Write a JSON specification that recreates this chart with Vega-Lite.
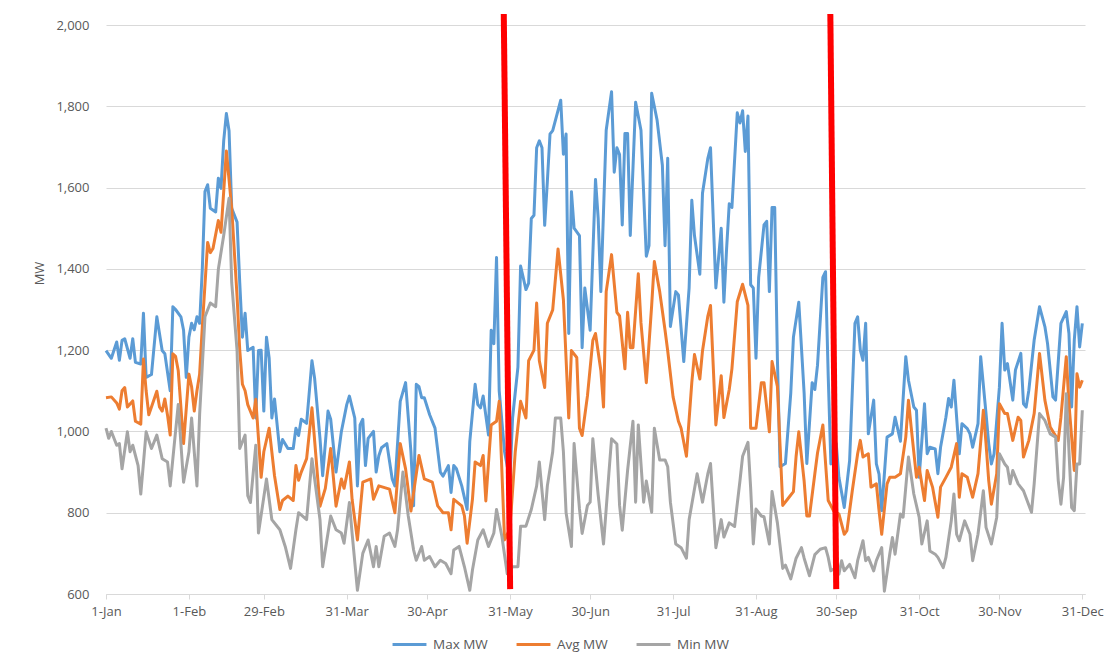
{
"$schema": "https://vega.github.io/schema/vega-lite/v6.json",
"width": 979, "height": 569,
"autosize": {"type": "none"},
"padding": {"left": 106, "top": 25, "right": 20, "bottom": 75},
"background": "white",
"config": {
 "view": {"stroke": null},
 "font": "Open Sans",
 "axis": {"labelFont": "Open Sans", "labelFontSize": 13, "labelColor": "#595959", "titleFont": "Open Sans", "titleFontSize": 13, "titleFontWeight": "normal", "titleColor": "#595959", "gridColor": "#D9D9D9", "domainColor": "#D9D9D9", "tickColor": "#D9D9D9"},
 "legend": {"orient": "none", "legendX": 285, "legendY": 601, "direction": "horizontal", "symbolType": "stroke", "symbolSize": 1150, "symbolStrokeWidth": 3, "labelFont": "Open Sans", "labelFontSize": 13.5, "labelColor": "#595959", "labelOffset": 5, "columnPadding": 22}
},
"datasets": {
 "max": [
{"date":"2016-01-01","mw":1199},{"date":"2016-01-03","mw":1180},{"date":"2016-01-05","mw":1220},{"date":"2016-01-06","mw":1175},{"date":"2016-01-07","mw":1224},{"date":"2016-01-08","mw":1228},{"date":"2016-01-10","mw":1180},{"date":"2016-01-11","mw":1228},{"date":"2016-01-12","mw":1170},{"date":"2016-01-14","mw":1166},{"date":"2016-01-15","mw":1291},{"date":"2016-01-16","mw":1133},{"date":"2016-01-18","mw":1140},{"date":"2016-01-20","mw":1282},{"date":"2016-01-22","mw":1199},{"date":"2016-01-23","mw":1191},{"date":"2016-01-25","mw":1100},{"date":"2016-01-26","mw":1307},{"date":"2016-01-27","mw":1300},{"date":"2016-01-29","mw":1282},{"date":"2016-01-30","mw":1249},{"date":"2016-01-31","mw":1133},
{"date":"2016-02-01","mw":1232},{"date":"2016-02-02","mw":1266},{"date":"2016-02-03","mw":1250},{"date":"2016-02-04","mw":1282},{"date":"2016-02-05","mw":1266},{"date":"2016-02-06","mw":1399},{"date":"2016-02-07","mw":1590},{"date":"2016-02-08","mw":1607},{"date":"2016-02-09","mw":1549},{"date":"2016-02-11","mw":1540},{"date":"2016-02-12","mw":1623},{"date":"2016-02-13","mw":1598},{"date":"2016-02-14","mw":1715},{"date":"2016-02-15","mw":1782},{"date":"2016-02-16","mw":1740},{"date":"2016-02-17","mw":1549},{"date":"2016-02-19","mw":1515},{"date":"2016-02-20","mw":1366},{"date":"2016-02-21","mw":1232},{"date":"2016-02-22","mw":1291},{"date":"2016-02-23","mw":1199},{"date":"2016-02-25","mw":1207},{"date":"2016-02-26","mw":1033},{"date":"2016-02-27","mw":1199},{"date":"2016-02-28","mw":1200},{"date":"2016-02-29","mw":1050},
{"date":"2016-03-01","mw":1232},{"date":"2016-03-02","mw":1180},{"date":"2016-03-03","mw":1033},{"date":"2016-03-04","mw":1080},{"date":"2016-03-06","mw":950},{"date":"2016-03-07","mw":980},{"date":"2016-03-09","mw":958},{"date":"2016-03-11","mw":958},{"date":"2016-03-12","mw":1008},{"date":"2016-03-13","mw":990},{"date":"2016-03-14","mw":1030},{"date":"2016-03-16","mw":1020},{"date":"2016-03-18","mw":1174},{"date":"2016-03-19","mw":1130},{"date":"2016-03-21","mw":983},{"date":"2016-03-22","mw":891},{"date":"2016-03-24","mw":1050},{"date":"2016-03-25","mw":1030},{"date":"2016-03-27","mw":900},{"date":"2016-03-29","mw":1000},{"date":"2016-03-31","mw":1066},
{"date":"2016-04-01","mw":1087},{"date":"2016-04-03","mw":1033},{"date":"2016-04-04","mw":866},{"date":"2016-04-05","mw":1016},{"date":"2016-04-06","mw":1030},{"date":"2016-04-07","mw":916},{"date":"2016-04-08","mw":983},{"date":"2016-04-10","mw":1000},{"date":"2016-04-11","mw":900},{"date":"2016-04-12","mw":940},{"date":"2016-04-13","mw":960},{"date":"2016-04-15","mw":970},{"date":"2016-04-17","mw":883},{"date":"2016-04-18","mw":866},{"date":"2016-04-20","mw":1074},{"date":"2016-04-22","mw":1120},{"date":"2016-04-24","mw":950},{"date":"2016-04-25","mw":817},{"date":"2016-04-26","mw":1116},{"date":"2016-04-27","mw":1110},{"date":"2016-04-28","mw":1083},{"date":"2016-04-29","mw":1083},
{"date":"2016-05-01","mw":1041},{"date":"2016-05-03","mw":1008},{"date":"2016-05-05","mw":900},{"date":"2016-05-06","mw":890},{"date":"2016-05-08","mw":916},{"date":"2016-05-09","mw":850},{"date":"2016-05-10","mw":916},{"date":"2016-05-11","mw":908},{"date":"2016-05-13","mw":866},{"date":"2016-05-15","mw":808},{"date":"2016-05-16","mw":975},{"date":"2016-05-18","mw":1116},{"date":"2016-05-19","mw":1066},{"date":"2016-05-20","mw":1058},{"date":"2016-05-21","mw":1087},{"date":"2016-05-23","mw":991},{"date":"2016-05-24","mw":1249},{"date":"2016-05-25","mw":1216},{"date":"2016-05-26","mw":1428},{"date":"2016-05-27","mw":1100},{"date":"2016-05-29","mw":950},{"date":"2016-05-31","mw":880},
{"date":"2016-06-01","mw":1033},{"date":"2016-06-03","mw":1158},{"date":"2016-06-04","mw":1407},{"date":"2016-06-06","mw":1349},{"date":"2016-06-07","mw":1365},{"date":"2016-06-08","mw":1524},{"date":"2016-06-09","mw":1532},{"date":"2016-06-10","mw":1698},{"date":"2016-06-11","mw":1715},{"date":"2016-06-12","mw":1698},{"date":"2016-06-13","mw":1507},{"date":"2016-06-14","mw":1615},{"date":"2016-06-15","mw":1732},{"date":"2016-06-16","mw":1740},{"date":"2016-06-18","mw":1790},{"date":"2016-06-19","mw":1815},{"date":"2016-06-20","mw":1682},{"date":"2016-06-21","mw":1732},{"date":"2016-06-22","mw":1241},{"date":"2016-06-23","mw":1590},{"date":"2016-06-24","mw":1500},{"date":"2016-06-26","mw":1482},{"date":"2016-06-27","mw":1206},{"date":"2016-06-28","mw":1353},{"date":"2016-06-30","mw":1249},
{"date":"2016-07-02","mw":1620},{"date":"2016-07-03","mw":1525},{"date":"2016-07-04","mw":1344},{"date":"2016-07-06","mw":1741},{"date":"2016-07-08","mw":1836},{"date":"2016-07-09","mw":1638},{"date":"2016-07-10","mw":1698},{"date":"2016-07-11","mw":1681},{"date":"2016-07-12","mw":1508},{"date":"2016-07-13","mw":1733},{"date":"2016-07-14","mw":1733},{"date":"2016-07-15","mw":1482},{"date":"2016-07-17","mw":1810},{"date":"2016-07-19","mw":1741},{"date":"2016-07-21","mw":1431},{"date":"2016-07-22","mw":1457},{"date":"2016-07-23","mw":1832},{"date":"2016-07-25","mw":1767},{"date":"2016-07-27","mw":1655},{"date":"2016-07-28","mw":1457},{"date":"2016-07-29","mw":1672},{"date":"2016-07-30","mw":1258},
{"date":"2016-08-01","mw":1344},{"date":"2016-08-02","mw":1336},{"date":"2016-08-04","mw":1172},{"date":"2016-08-06","mw":1353},{"date":"2016-08-07","mw":1569},{"date":"2016-08-08","mw":1482},{"date":"2016-08-10","mw":1387},{"date":"2016-08-11","mw":1586},{"date":"2016-08-13","mw":1672},{"date":"2016-08-14","mw":1698},{"date":"2016-08-16","mw":1353},{"date":"2016-08-18","mw":1500},{"date":"2016-08-19","mw":1318},{"date":"2016-08-20","mw":1448},{"date":"2016-08-21","mw":1560},{"date":"2016-08-22","mw":1551},{"date":"2016-08-24","mw":1784},{"date":"2016-08-25","mw":1759},{"date":"2016-08-26","mw":1789},{"date":"2016-08-27","mw":1689},{"date":"2016-08-28","mw":1776},{"date":"2016-08-29","mw":1361},{"date":"2016-08-30","mw":1353},{"date":"2016-08-31","mw":1180},
{"date":"2016-09-01","mw":1379},{"date":"2016-09-03","mw":1508},{"date":"2016-09-04","mw":1517},{"date":"2016-09-05","mw":1344},{"date":"2016-09-06","mw":1551},{"date":"2016-09-07","mw":1551},{"date":"2016-09-08","mw":1180},{"date":"2016-09-09","mw":913},{"date":"2016-09-11","mw":921},{"date":"2016-09-13","mw":1094},{"date":"2016-09-14","mw":1232},{"date":"2016-09-16","mw":1318},{"date":"2016-09-18","mw":1094},{"date":"2016-09-19","mw":921},{"date":"2016-09-21","mw":1120},{"date":"2016-09-22","mw":1103},{"date":"2016-09-23","mw":1163},{"date":"2016-09-25","mw":1379},{"date":"2016-09-26","mw":1393},{"date":"2016-09-27","mw":1137},{"date":"2016-09-28","mw":920},{"date":"2016-09-30","mw":970},
{"date":"2016-10-01","mw":887},{"date":"2016-10-03","mw":813},{"date":"2016-10-05","mw":928},{"date":"2016-10-07","mw":1266},{"date":"2016-10-08","mw":1282},{"date":"2016-10-09","mw":1200},{"date":"2016-10-10","mw":1175},{"date":"2016-10-11","mw":1266},{"date":"2016-10-12","mw":994},{"date":"2016-10-14","mw":1077},{"date":"2016-10-15","mw":920},{"date":"2016-10-16","mw":895},{"date":"2016-10-17","mw":805},{"date":"2016-10-19","mw":986},{"date":"2016-10-21","mw":994},{"date":"2016-10-22","mw":1035},{"date":"2016-10-24","mw":976},{"date":"2016-10-26","mw":1184},{"date":"2016-10-27","mw":1126},{"date":"2016-10-29","mw":1060},{"date":"2016-10-30","mw":1052},{"date":"2016-10-31","mw":887},
{"date":"2016-11-01","mw":976},{"date":"2016-11-02","mw":1068},{"date":"2016-11-03","mw":945},{"date":"2016-11-04","mw":961},{"date":"2016-11-06","mw":957},{"date":"2016-11-07","mw":896},{"date":"2016-11-08","mw":961},{"date":"2016-11-10","mw":1035},{"date":"2016-11-11","mw":1081},{"date":"2016-11-12","mw":1060},{"date":"2016-11-13","mw":1126},{"date":"2016-11-15","mw":945},{"date":"2016-11-16","mw":1019},{"date":"2016-11-18","mw":1007},{"date":"2016-11-19","mw":994},{"date":"2016-11-20","mw":961},{"date":"2016-11-22","mw":1019},{"date":"2016-11-23","mw":1184},{"date":"2016-11-25","mw":1044},{"date":"2016-11-26","mw":970},{"date":"2016-11-27","mw":920},{"date":"2016-11-28","mw":945},{"date":"2016-11-30","mw":1109},
{"date":"2016-12-01","mw":1266},{"date":"2016-12-02","mw":1151},{"date":"2016-12-03","mw":1167},{"date":"2016-12-05","mw":1077},{"date":"2016-12-06","mw":1151},{"date":"2016-12-08","mw":1192},{"date":"2016-12-09","mw":1068},{"date":"2016-12-10","mw":1060},{"date":"2016-12-11","mw":1101},{"date":"2016-12-13","mw":1225},{"date":"2016-12-15","mw":1307},{"date":"2016-12-17","mw":1258},{"date":"2016-12-18","mw":1216},{"date":"2016-12-20","mw":1085},{"date":"2016-12-21","mw":1077},{"date":"2016-12-23","mw":1266},{"date":"2016-12-25","mw":1295},{"date":"2016-12-26","mw":1241},{"date":"2016-12-27","mw":1060},{"date":"2016-12-28","mw":1225},{"date":"2016-12-29","mw":1307},{"date":"2016-12-30","mw":1208},{"date":"2016-12-31","mw":1266}
 ],
 "avg": [
{"date":"2016-01-01","mw":1083},{"date":"2016-01-03","mw":1085},{"date":"2016-01-05","mw":1070},{"date":"2016-01-06","mw":1055},{"date":"2016-01-07","mw":1100},{"date":"2016-01-08","mw":1108},{"date":"2016-01-09","mw":1060},{"date":"2016-01-11","mw":1075},{"date":"2016-01-12","mw":1025},{"date":"2016-01-14","mw":1018},{"date":"2016-01-15","mw":1178},{"date":"2016-01-16","mw":1100},{"date":"2016-01-17","mw":1041},{"date":"2016-01-18","mw":1060},{"date":"2016-01-20","mw":1099},{"date":"2016-01-21","mw":1060},{"date":"2016-01-22","mw":1050},{"date":"2016-01-23","mw":1080},{"date":"2016-01-24","mw":1040},{"date":"2016-01-25","mw":991},{"date":"2016-01-26","mw":1191},{"date":"2016-01-27","mw":1185},{"date":"2016-01-28","mw":1150},{"date":"2016-01-30","mw":970},
{"date":"2016-02-01","mw":1141},{"date":"2016-02-02","mw":1110},{"date":"2016-02-03","mw":1050},{"date":"2016-02-04","mw":1100},{"date":"2016-02-05","mw":1141},{"date":"2016-02-06","mw":1257},{"date":"2016-02-08","mw":1465},{"date":"2016-02-09","mw":1440},{"date":"2016-02-10","mw":1450},{"date":"2016-02-12","mw":1519},{"date":"2016-02-13","mw":1490},{"date":"2016-02-15","mw":1690},{"date":"2016-02-17","mw":1549},{"date":"2016-02-19","mw":1332},{"date":"2016-02-20","mw":1200},{"date":"2016-02-21","mw":1116},{"date":"2016-02-22","mw":1100},{"date":"2016-02-23","mw":1066},{"date":"2016-02-25","mw":1033},{"date":"2016-02-26","mw":1079},{"date":"2016-02-28","mw":887},{"date":"2016-02-29","mw":950},
{"date":"2016-03-02","mw":1008},{"date":"2016-03-04","mw":891},{"date":"2016-03-06","mw":808},{"date":"2016-03-07","mw":830},{"date":"2016-03-09","mw":841},{"date":"2016-03-11","mw":830},{"date":"2016-03-12","mw":916},{"date":"2016-03-13","mw":880},{"date":"2016-03-14","mw":900},{"date":"2016-03-16","mw":933},{"date":"2016-03-18","mw":1058},{"date":"2016-03-21","mw":816},{"date":"2016-03-23","mw":860},{"date":"2016-03-25","mw":958},{"date":"2016-03-27","mw":816},{"date":"2016-03-29","mw":883},{"date":"2016-03-30","mw":860},
{"date":"2016-04-01","mw":925},{"date":"2016-04-02","mw":833},{"date":"2016-04-04","mw":733},{"date":"2016-04-06","mw":875},{"date":"2016-04-09","mw":883},{"date":"2016-04-10","mw":833},{"date":"2016-04-12","mw":866},{"date":"2016-04-16","mw":858},{"date":"2016-04-18","mw":800},{"date":"2016-04-20","mw":970},{"date":"2016-04-22","mw":908},{"date":"2016-04-24","mw":804},{"date":"2016-04-27","mw":941},{"date":"2016-04-29","mw":883},
{"date":"2016-05-02","mw":875},{"date":"2016-05-04","mw":817},{"date":"2016-05-06","mw":800},{"date":"2016-05-08","mw":800},{"date":"2016-05-09","mw":758},{"date":"2016-05-10","mw":833},{"date":"2016-05-13","mw":817},{"date":"2016-05-14","mw":792},{"date":"2016-05-15","mw":725},{"date":"2016-05-17","mw":833},{"date":"2016-05-18","mw":925},{"date":"2016-05-20","mw":916},{"date":"2016-05-21","mw":941},{"date":"2016-05-22","mw":829},{"date":"2016-05-24","mw":1016},{"date":"2016-05-26","mw":1025},{"date":"2016-05-27","mw":1074},{"date":"2016-05-29","mw":733},{"date":"2016-05-31","mw":760},
{"date":"2016-06-02","mw":950},{"date":"2016-06-04","mw":1074},{"date":"2016-06-06","mw":1033},{"date":"2016-06-07","mw":1174},{"date":"2016-06-09","mw":1200},{"date":"2016-06-10","mw":1316},{"date":"2016-06-11","mw":1174},{"date":"2016-06-13","mw":1108},{"date":"2016-06-14","mw":1266},{"date":"2016-06-16","mw":1299},{"date":"2016-06-18","mw":1449},{"date":"2016-06-20","mw":1324},{"date":"2016-06-22","mw":1033},{"date":"2016-06-23","mw":1199},{"date":"2016-06-25","mw":1182},{"date":"2016-06-26","mw":1008},{"date":"2016-06-27","mw":990},{"date":"2016-06-29","mw":1088},
{"date":"2016-07-01","mw":1224},{"date":"2016-07-02","mw":1241},{"date":"2016-07-04","mw":1150},{"date":"2016-07-05","mw":1060},{"date":"2016-07-06","mw":1344},{"date":"2016-07-08","mw":1435},{"date":"2016-07-10","mw":1293},{"date":"2016-07-11","mw":1284},{"date":"2016-07-13","mw":1154},{"date":"2016-07-14","mw":1293},{"date":"2016-07-15","mw":1206},{"date":"2016-07-16","mw":1206},{"date":"2016-07-18","mw":1388},{"date":"2016-07-19","mw":1267},{"date":"2016-07-21","mw":1120},{"date":"2016-07-23","mw":1310},{"date":"2016-07-24","mw":1418},{"date":"2016-07-26","mw":1344},{"date":"2016-07-28","mw":1249},{"date":"2016-07-29","mw":1198},{"date":"2016-07-31","mw":1085},
{"date":"2016-08-02","mw":1025},{"date":"2016-08-03","mw":1008},{"date":"2016-08-05","mw":939},{"date":"2016-08-07","mw":1120},{"date":"2016-08-08","mw":1189},{"date":"2016-08-10","mw":1129},{"date":"2016-08-11","mw":1198},{"date":"2016-08-13","mw":1284},{"date":"2016-08-14","mw":1310},{"date":"2016-08-16","mw":1016},{"date":"2016-08-18","mw":1137},{"date":"2016-08-19","mw":1034},{"date":"2016-08-21","mw":1103},{"date":"2016-08-22","mw":1154},{"date":"2016-08-24","mw":1319},{"date":"2016-08-26","mw":1362},{"date":"2016-08-28","mw":1310},{"date":"2016-08-29","mw":1008},{"date":"2016-08-31","mw":1008},
{"date":"2016-09-02","mw":1120},{"date":"2016-09-03","mw":1120},{"date":"2016-09-05","mw":999},{"date":"2016-09-06","mw":1172},{"date":"2016-09-08","mw":1111},{"date":"2016-09-10","mw":818},{"date":"2016-09-12","mw":835},{"date":"2016-09-14","mw":852},{"date":"2016-09-15","mw":939},{"date":"2016-09-16","mw":999},{"date":"2016-09-18","mw":878},{"date":"2016-09-19","mw":792},{"date":"2016-09-20","mw":792},{"date":"2016-09-22","mw":896},{"date":"2016-09-23","mw":947},{"date":"2016-09-25","mw":1016},{"date":"2016-09-27","mw":830},{"date":"2016-09-29","mw":805},
{"date":"2016-10-01","mw":797},{"date":"2016-10-03","mw":747},{"date":"2016-10-04","mw":756},{"date":"2016-10-06","mw":854},{"date":"2016-10-08","mw":945},{"date":"2016-10-09","mw":978},{"date":"2016-10-10","mw":937},{"date":"2016-10-12","mw":945},{"date":"2016-10-13","mw":863},{"date":"2016-10-15","mw":871},{"date":"2016-10-16","mw":805},{"date":"2016-10-17","mw":747},{"date":"2016-10-19","mw":871},{"date":"2016-10-20","mw":887},{"date":"2016-10-22","mw":887},{"date":"2016-10-24","mw":896},{"date":"2016-10-26","mw":986},{"date":"2016-10-27","mw":1077},{"date":"2016-10-28","mw":1011},{"date":"2016-10-30","mw":887},{"date":"2016-10-31","mw":912},
{"date":"2016-11-02","mw":830},{"date":"2016-11-03","mw":904},{"date":"2016-11-05","mw":863},{"date":"2016-11-07","mw":789},{"date":"2016-11-08","mw":863},{"date":"2016-11-10","mw":887},{"date":"2016-11-12","mw":912},{"date":"2016-11-14","mw":970},{"date":"2016-11-15","mw":838},{"date":"2016-11-16","mw":896},{"date":"2016-11-18","mw":887},{"date":"2016-11-20","mw":838},{"date":"2016-11-22","mw":896},{"date":"2016-11-24","mw":1052},{"date":"2016-11-25","mw":970},{"date":"2016-11-26","mw":879},{"date":"2016-11-27","mw":821},{"date":"2016-11-29","mw":896},{"date":"2016-11-30","mw":1068},
{"date":"2016-12-02","mw":1044},{"date":"2016-12-03","mw":1044},{"date":"2016-12-05","mw":978},{"date":"2016-12-07","mw":1035},{"date":"2016-12-08","mw":1027},{"date":"2016-12-09","mw":937},{"date":"2016-12-11","mw":978},{"date":"2016-12-13","mw":1044},{"date":"2016-12-15","mw":1192},{"date":"2016-12-17","mw":1077},{"date":"2016-12-19","mw":1011},{"date":"2016-12-22","mw":978},{"date":"2016-12-23","mw":1035},{"date":"2016-12-25","mw":1184},{"date":"2016-12-26","mw":1068},{"date":"2016-12-28","mw":904},{"date":"2016-12-29","mw":1142},{"date":"2016-12-30","mw":1109},{"date":"2016-12-31","mw":1126}
 ],
 "min": [
{"date":"2016-01-01","mw":1008},{"date":"2016-01-02","mw":983},{"date":"2016-01-03","mw":1000},{"date":"2016-01-05","mw":966},{"date":"2016-01-06","mw":970},{"date":"2016-01-07","mw":908},{"date":"2016-01-09","mw":999},{"date":"2016-01-10","mw":950},{"date":"2016-01-11","mw":966},{"date":"2016-01-13","mw":916},{"date":"2016-01-14","mw":846},{"date":"2016-01-16","mw":999},{"date":"2016-01-18","mw":958},{"date":"2016-01-20","mw":991},{"date":"2016-01-22","mw":933},{"date":"2016-01-24","mw":925},{"date":"2016-01-25","mw":866},{"date":"2016-01-26","mw":933},{"date":"2016-01-28","mw":1066},{"date":"2016-01-30","mw":875},
{"date":"2016-02-01","mw":950},{"date":"2016-02-02","mw":1033},{"date":"2016-02-04","mw":866},{"date":"2016-02-05","mw":1041},{"date":"2016-02-07","mw":1282},{"date":"2016-02-09","mw":1316},{"date":"2016-02-11","mw":1307},{"date":"2016-02-12","mw":1399},{"date":"2016-02-14","mw":1482},{"date":"2016-02-16","mw":1574},{"date":"2016-02-17","mw":1366},{"date":"2016-02-19","mw":1199},{"date":"2016-02-20","mw":958},{"date":"2016-02-22","mw":991},{"date":"2016-02-23","mw":842},{"date":"2016-02-24","mw":825},{"date":"2016-02-26","mw":966},{"date":"2016-02-27","mw":750},
{"date":"2016-03-01","mw":883},{"date":"2016-03-03","mw":783},{"date":"2016-03-06","mw":758},{"date":"2016-03-08","mw":717},{"date":"2016-03-10","mw":663},{"date":"2016-03-12","mw":758},{"date":"2016-03-13","mw":800},{"date":"2016-03-16","mw":783},{"date":"2016-03-18","mw":933},{"date":"2016-03-21","mw":783},{"date":"2016-03-22","mw":667},{"date":"2016-03-25","mw":792},{"date":"2016-03-27","mw":758},{"date":"2016-03-29","mw":750},{"date":"2016-03-30","mw":725},
{"date":"2016-04-01","mw":825},{"date":"2016-04-02","mw":750},{"date":"2016-04-04","mw":609},{"date":"2016-04-06","mw":700},{"date":"2016-04-08","mw":733},{"date":"2016-04-10","mw":667},{"date":"2016-04-11","mw":717},{"date":"2016-04-12","mw":667},{"date":"2016-04-14","mw":742},{"date":"2016-04-16","mw":750},{"date":"2016-04-18","mw":717},{"date":"2016-04-19","mw":758},{"date":"2016-04-21","mw":900},{"date":"2016-04-23","mw":792},{"date":"2016-04-25","mw":708},{"date":"2016-04-26","mw":683},{"date":"2016-04-28","mw":717},{"date":"2016-04-29","mw":683},
{"date":"2016-05-01","mw":692},{"date":"2016-05-03","mw":667},{"date":"2016-05-05","mw":683},{"date":"2016-05-07","mw":675},{"date":"2016-05-09","mw":650},{"date":"2016-05-10","mw":708},{"date":"2016-05-12","mw":717},{"date":"2016-05-14","mw":667},{"date":"2016-05-16","mw":609},{"date":"2016-05-17","mw":659},{"date":"2016-05-19","mw":733},{"date":"2016-05-21","mw":758},{"date":"2016-05-23","mw":717},{"date":"2016-05-25","mw":750},{"date":"2016-05-26","mw":808},{"date":"2016-05-28","mw":742},{"date":"2016-05-30","mw":650},
{"date":"2016-06-01","mw":667},{"date":"2016-06-03","mw":667},{"date":"2016-06-04","mw":767},{"date":"2016-06-06","mw":767},{"date":"2016-06-08","mw":808},{"date":"2016-06-10","mw":866},{"date":"2016-06-11","mw":925},{"date":"2016-06-13","mw":783},{"date":"2016-06-14","mw":866},{"date":"2016-06-16","mw":950},{"date":"2016-06-17","mw":1033},{"date":"2016-06-19","mw":1033},{"date":"2016-06-20","mw":950},{"date":"2016-06-21","mw":800},{"date":"2016-06-23","mw":717},{"date":"2016-06-24","mw":970},{"date":"2016-06-26","mw":810},{"date":"2016-06-27","mw":749},{"date":"2016-06-29","mw":818},{"date":"2016-06-30","mw":826},
{"date":"2016-07-01","mw":982},{"date":"2016-07-03","mw":844},{"date":"2016-07-05","mw":723},{"date":"2016-07-07","mw":896},{"date":"2016-07-08","mw":982},{"date":"2016-07-10","mw":969},{"date":"2016-07-11","mw":818},{"date":"2016-07-12","mw":757},{"date":"2016-07-14","mw":904},{"date":"2016-07-16","mw":1025},{"date":"2016-07-17","mw":826},{"date":"2016-07-18","mw":1016},{"date":"2016-07-20","mw":826},{"date":"2016-07-21","mw":878},{"date":"2016-07-23","mw":801},{"date":"2016-07-24","mw":1008},{"date":"2016-07-26","mw":930},{"date":"2016-07-28","mw":930},{"date":"2016-07-29","mw":913},{"date":"2016-07-30","mw":826},
{"date":"2016-08-01","mw":723},{"date":"2016-08-03","mw":714},{"date":"2016-08-05","mw":688},{"date":"2016-08-06","mw":783},{"date":"2016-08-09","mw":896},{"date":"2016-08-11","mw":826},{"date":"2016-08-13","mw":896},{"date":"2016-08-14","mw":921},{"date":"2016-08-16","mw":714},{"date":"2016-08-18","mw":783},{"date":"2016-08-19","mw":740},{"date":"2016-08-21","mw":775},{"date":"2016-08-23","mw":766},{"date":"2016-08-25","mw":878},{"date":"2016-08-26","mw":939},{"date":"2016-08-28","mw":973},{"date":"2016-08-29","mw":861},{"date":"2016-08-30","mw":723},{"date":"2016-08-31","mw":809},
{"date":"2016-09-02","mw":792},{"date":"2016-09-03","mw":790},{"date":"2016-09-05","mw":723},{"date":"2016-09-06","mw":852},{"date":"2016-09-08","mw":775},{"date":"2016-09-10","mw":663},{"date":"2016-09-11","mw":671},{"date":"2016-09-13","mw":637},{"date":"2016-09-15","mw":688},{"date":"2016-09-17","mw":714},{"date":"2016-09-18","mw":688},{"date":"2016-09-20","mw":645},{"date":"2016-09-22","mw":697},{"date":"2016-09-24","mw":710},{"date":"2016-09-26","mw":714},{"date":"2016-09-27","mw":690},{"date":"2016-09-28","mw":657},{"date":"2016-09-30","mw":665},
{"date":"2016-10-01","mw":649},{"date":"2016-10-02","mw":682},{"date":"2016-10-03","mw":657},{"date":"2016-10-05","mw":673},{"date":"2016-10-07","mw":640},{"date":"2016-10-08","mw":682},{"date":"2016-10-10","mw":731},{"date":"2016-10-11","mw":682},{"date":"2016-10-12","mw":690},{"date":"2016-10-14","mw":657},{"date":"2016-10-15","mw":682},{"date":"2016-10-17","mw":714},{"date":"2016-10-18","mw":607},{"date":"2016-10-20","mw":698},{"date":"2016-10-21","mw":739},{"date":"2016-10-22","mw":698},{"date":"2016-10-24","mw":797},{"date":"2016-10-25","mw":789},{"date":"2016-10-27","mw":937},{"date":"2016-10-29","mw":846},{"date":"2016-10-31","mw":789},
{"date":"2016-11-01","mw":723},{"date":"2016-11-03","mw":780},{"date":"2016-11-04","mw":706},{"date":"2016-11-06","mw":698},{"date":"2016-11-07","mw":690},{"date":"2016-11-09","mw":665},{"date":"2016-11-10","mw":690},{"date":"2016-11-12","mw":780},{"date":"2016-11-13","mw":846},{"date":"2016-11-14","mw":747},{"date":"2016-11-15","mw":731},{"date":"2016-11-17","mw":780},{"date":"2016-11-19","mw":747},{"date":"2016-11-20","mw":682},{"date":"2016-11-22","mw":747},{"date":"2016-11-24","mw":854},{"date":"2016-11-25","mw":764},{"date":"2016-11-27","mw":723},{"date":"2016-11-29","mw":789},{"date":"2016-11-30","mw":945},
{"date":"2016-12-02","mw":920},{"date":"2016-12-03","mw":912},{"date":"2016-12-04","mw":871},{"date":"2016-12-05","mw":904},{"date":"2016-12-07","mw":871},{"date":"2016-12-09","mw":854},{"date":"2016-12-12","mw":801},{"date":"2016-12-13","mw":871},{"date":"2016-12-15","mw":1044},{"date":"2016-12-17","mw":1027},{"date":"2016-12-19","mw":994},{"date":"2016-12-21","mw":986},{"date":"2016-12-22","mw":879},{"date":"2016-12-23","mw":821},{"date":"2016-12-24","mw":887},{"date":"2016-12-25","mw":1093},{"date":"2016-12-27","mw":813},{"date":"2016-12-28","mw":805},{"date":"2016-12-29","mw":920},{"date":"2016-12-30","mw":920},{"date":"2016-12-31","mw":1052}
 ],
 "marks": [
  {"date":"2016-05-28T17:00:00Z","date2":"2016-05-31T02:00:00Z","mw":2027,"mw2":612},
  {"date":"2016-09-27T19:00:00Z","date2":"2016-09-30T00:00:00Z","mw":2027,"mw2":612}
 ]
},
"encoding": {
 "x": {"field": "date", "type": "temporal",
  "scale": {"type": "utc", "nice": false, "domain": [{"year": 2016, "month": 1, "date": 1, "utc": true}, {"year": 2017, "month": 1, "date": 1, "utc": true}]},
  "axis": {"title": null, "format": "%-d-%b", "labelFlush": false, "labelOverlap": false, "grid": false, "tickSize": 5, "labelPadding": 6,
   "values": [{"year":2016,"month":1,"date":1,"utc":true},{"year":2016,"month":2,"date":1,"utc":true},{"year":2016,"month":2,"date":29,"utc":true},{"year":2016,"month":3,"date":31,"utc":true},{"year":2016,"month":4,"date":30,"utc":true},{"year":2016,"month":5,"date":31,"utc":true},{"year":2016,"month":6,"date":30,"utc":true},{"year":2016,"month":7,"date":31,"utc":true},{"year":2016,"month":8,"date":31,"utc":true},{"year":2016,"month":9,"date":30,"utc":true},{"year":2016,"month":10,"date":31,"utc":true},{"year":2016,"month":11,"date":30,"utc":true},{"year":2016,"month":12,"date":31,"utc":true}]}},
 "y": {"field": "mw", "type": "quantitative",
  "scale": {"domain": [600, 2000], "nice": false, "zero": false},
  "axis": {"title": "MW", "values": [600, 800, 1000, 1200, 1400, 1600, 1800, 2000], "format": ",.0f", "domain": false, "ticks": false, "labelPadding": 17, "titlePadding": 9, "titleY": 248}}
},
"layer": [
 {"data": {"name": "max"}, "mark": {"type": "line", "strokeWidth": 3, "strokeJoin": "round"},
  "encoding": {"color": {"datum": "Max MW", "type": "nominal", "scale": {"domain": ["Max MW", "Avg MW", "Min MW"], "range": ["#5B9BD5", "#ED7D31", "#A5A5A5"]}, "legend": {"title": null}}}},
 {"data": {"name": "avg"}, "mark": {"type": "line", "strokeWidth": 3, "strokeJoin": "round"},
  "encoding": {"color": {"datum": "Avg MW", "type": "nominal", "legend": {"title": null}}}},
 {"data": {"name": "min"}, "mark": {"type": "line", "strokeWidth": 3, "strokeJoin": "round"},
  "encoding": {"color": {"datum": "Min MW", "type": "nominal", "legend": {"title": null}}}},
 {"data": {"name": "marks"}, "mark": {"type": "rule", "color": "#FF0000", "strokeWidth": 6},
  "encoding": {"x2": {"field": "date2"}, "y2": {"field": "mw2"}}}
]
}
